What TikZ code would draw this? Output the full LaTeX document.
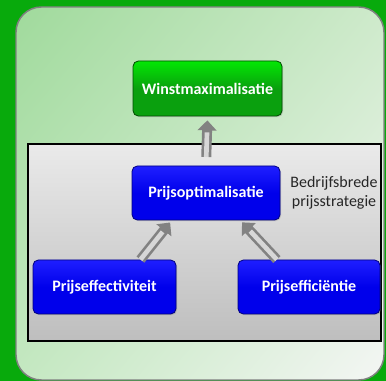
\documentclass[tikz,border=0pt]{standalone}
\usepackage{fontspec}
\setmainfont{Carlito}
\usetikzlibrary{arrows.meta,calc,shadows,shadings}

\definecolor{bggreen}{RGB}{8,170,12}
\definecolor{panelA}{RGB}{160,218,156}
\definecolor{panelB}{RGB}{244,246,244}
\definecolor{panelC}{RGB}{206,234,203}
\definecolor{panelD}{RGB}{196,232,193}
\definecolor{graytop}{RGB}{234,234,234}
\definecolor{graybot}{RGB}{190,190,190}
\definecolor{boxblue}{RGB}{0,0,235}
\definecolor{boxgreen}{RGB}{10,160,14}
\definecolor{arrowgray}{RGB}{130,130,130}
\definecolor{arrowlight}{RGB}{215,215,215}

\begin{document}
\begin{tikzpicture}[x=0.75pt,y=0.75pt,
  bluebox/.style={rounded corners=4pt, draw=blue!50!black, line width=0.6pt,
    top color=blue!88!white, bottom color=boxblue, middle color=boxblue,
    text=white, font=\bfseries\fontsize{12}{14}\selectfont,
    drop shadow={shadow xshift=0.8pt, shadow yshift=-0.8pt, opacity=0.35}},
  greenbox/.style={bluebox, draw=green!30!black,
    top color=green!75!boxgreen, bottom color=boxgreen, middle color=boxgreen},
  blockarrow/.style={draw=arrowgray, line width=7.5pt, shorten >=#1,
    -{Triangle[width=14pt,length=7.5pt]},
    postaction={draw=arrowlight, line width=3.5pt, -, shorten >=#1+9pt}},
  blockarrow/.default=2pt]

\useasboundingbox (0,0) rectangle (386,381);
\fill[bggreen] (0,0) rectangle (386,381);

% panels
\draw[draw=gray, line width=1.1pt, rounded corners=19pt,
  upper left=panelA, lower right=panelB, upper right=panelC, lower left=panelD]
  (16,1) rectangle (384,374);
\draw[draw=black, line width=0.8pt, top color=graytop, bottom color=graybot]
  (28,40) rectangle (381,237);

% boxes
\node[greenbox, minimum width=111.75pt, minimum height=41.25pt] (winst) at (207.5,292.5) {Winstmaximalisatie};
\node[bluebox, minimum width=111pt, minimum height=40.5pt] (opt) at (206,188) {Prijsoptimalisatie};
\node[bluebox, minimum width=107.25pt, minimum height=40.5pt] (eff) at (104.5,94) {Prijseffectiviteit};
\node[bluebox, minimum width=106.5pt, minimum height=40.5pt] (effic) at (309,94) {Prijsefficiëntie};
\node[align=center, text=black!85, font=\fontsize{12}{14.25}\selectfont] (strat) at (334,188) {Bedrijfsbrede\\prijsstrategie};

% arrows
\draw[blockarrow=3pt, shorten <=6.5pt] (opt.north) -- (winst.south);
\draw[blockarrow] ($(eff.north)!0.5!(eff.north east)$) -- ($(opt.south)!0.46!(opt.south west)$);
\draw[blockarrow] ($(effic.north)!0.45!(effic.north west)$) -- ($(opt.south)!0.46!(opt.south east)$);

\end{tikzpicture}
\end{document}
